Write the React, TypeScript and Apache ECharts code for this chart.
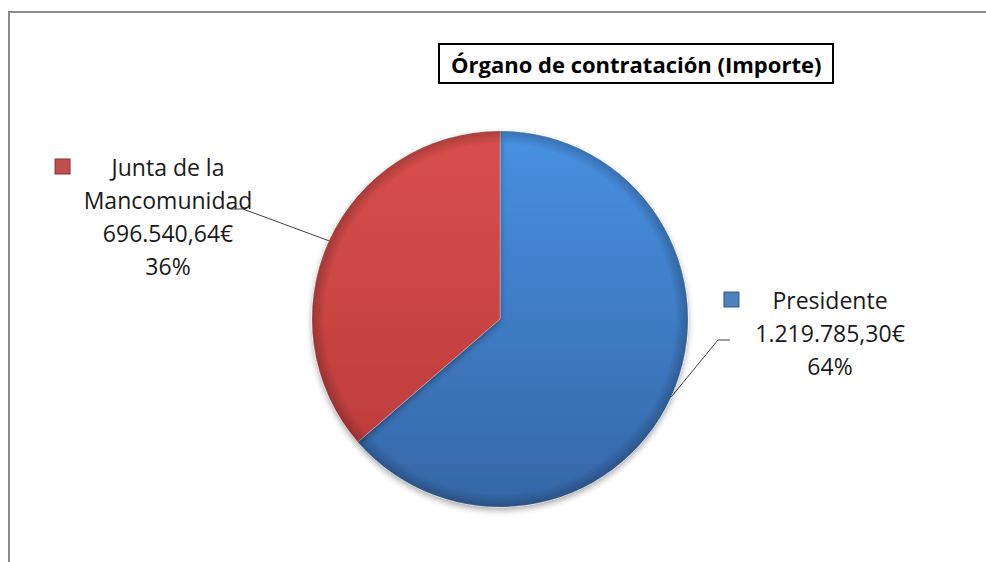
import React, { useEffect, useRef } from "react";
import * as echarts from "echarts";

const titleText = "Órgano de contratación (Importe)";
const categories = ["Presidente", "Junta de la\nMancomunidad"];
const values = [1219785.3, 696540.64];
const sliceColors = [
  { top: "#4891e2", bottom: "#3566a6", key: "#4f81bd", keyBorder: "#2c5a92" },
  { top: "#d94f4c", bottom: "#b8393a", key: "#c0504d", keyBorder: "#8c2f2d" },
];
const keyGaps = [
  { gap: 34, sp: 48 },
  { gap: 42, sp: 56 },
];

function fmtEuro(v: number): string {
  const fixed = v.toFixed(2);
  const [int, dec] = fixed.split(".");
  const withDots = int.replace(/\B(?=(\d{3})+(?!\d))/g, ".");
  return withDots + "," + dec + "€";
}

export default function App() {
  const ref = useRef<HTMLDivElement>(null);
  useEffect(() => {
    if (!ref.current) return;
    const chart = echarts.init(ref.current, undefined, { renderer: "svg" });
    const cx = 500;
    const cy = 319;
    const R = 188;
    const fontFamily = "'Open Sans', 'Noto Sans', sans-serif";

    const labelPlacement: Record<number, { x: number; y: number; elbow: number[]; end: number[] }> = {
      0: { x: 830, y: 283, elbow: [718, 340], end: [730, 340] },
      1: { x: 168, y: 150, elbow: [243, 209], end: [230, 209] },
    };

    const data = values.map((v, i) => ({
      name: categories[i],
      value: v,
      itemStyle: {
        color: {
          type: "linear",
          x: 0,
          y: cy - R,
          x2: 0,
          y2: cy + R,
          global: true,
          colorStops: [
            { offset: 0, color: sliceColors[i].top },
            { offset: 1, color: sliceColors[i].bottom },
          ],
        },
      },
      label: {
        rich: {
          icon: {
            width: 14,
            height: 14,
            backgroundColor: sliceColors[i].key,
            borderColor: sliceColors[i].keyBorder,
            borderWidth: 1,
          },
          gap: { width: keyGaps[i].gap, height: 14 },
          sp: { width: keyGaps[i].sp, height: 14 },
        },
      },
    }));

    const option: any = {
      animation: false,
      backgroundColor: "#ffffff",
      title: {
        text: titleText,
        left: 439,
        top: 44,
        padding: [5, 12, 4, 12],
        borderColor: "#000000",
        borderWidth: 2,
        textStyle: {
          fontFamily,
          fontWeight: "bold",
          fontSize: 22,
          lineHeight: 30,
          color: "#000000",
        },
      },
      graphic: [
        {
          type: "rect",
          shape: { x: 9, y: 12, width: 1100, height: 700 },
          style: { fill: "none", stroke: "#8a8a8a", lineWidth: 2 },
          silent: true,
          z: -1,
        },
      ],
      series: [
        {
          type: "pie",
          center: [cx, cy],
          radius: R,
          startAngle: 90,
          clockwise: true,
          avoidLabelOverlap: false,
          itemStyle: {
            borderColor: "rgba(255,255,255,0.25)",
            borderWidth: 1,
            shadowBlur: 6,
            shadowOffsetY: 3,
            shadowColor: "rgba(0,0,0,0.35)",
          },
          label: {
            show: true,
            position: "outside",
            fontFamily,
            fontSize: 23,
            lineHeight: 33,
            color: "#1a1a1a",
            align: "center",
            formatter: (p: any) => {
              const lines = String(p.name).split("\n");
              const first = "{icon|}{gap|}" + lines[0] + "{sp|}";
              const rest = lines.slice(1);
              return [first, ...rest, fmtEuro(p.value), Math.round(p.percent) + "%"].join("\n");
            },
          },
          labelLine: {
            show: true,
            lineStyle: { color: "#404040", width: 1 },
          },
          labelLayout: (params: any) => {
            const pl = labelPlacement[params.dataIndex];
            const p0 = params.labelLinePoints ? params.labelLinePoints[0] : pl.elbow;
            return {
              x: pl.x,
              y: pl.y,
              align: "center",
              verticalAlign: "top",
              labelLinePoints: [p0, pl.elbow, pl.end],
            };
          },
          emphasis: { disabled: true },
          data,
          z: 2,
        },
        {
          type: "pie",
          center: [cx, cy],
          radius: R,
          startAngle: 90,
          clockwise: true,
          silent: true,
          label: { show: false },
          labelLine: { show: false },
          itemStyle: {
            color: {
              type: "radial",
              x: cx,
              y: cy,
              r: R,
              global: true,
              colorStops: [
                { offset: 0, color: "rgba(0,0,0,0)" },
                { offset: 0.93, color: "rgba(0,0,0,0)" },
                { offset: 1, color: "rgba(0,0,0,0.22)" },
              ],
            },
          },
          emphasis: { disabled: true },
          data: values.map((v, i) => ({ name: categories[i], value: v })),
          z: 3,
        },
      ],
    };
    chart.setOption(option);
    return () => chart.dispose();
  }, []);
  return (
    <div
      ref={ref}
      style={{ position: "fixed", left: 0, top: 0, width: 986, height: 562 }}
    />
  );
}
